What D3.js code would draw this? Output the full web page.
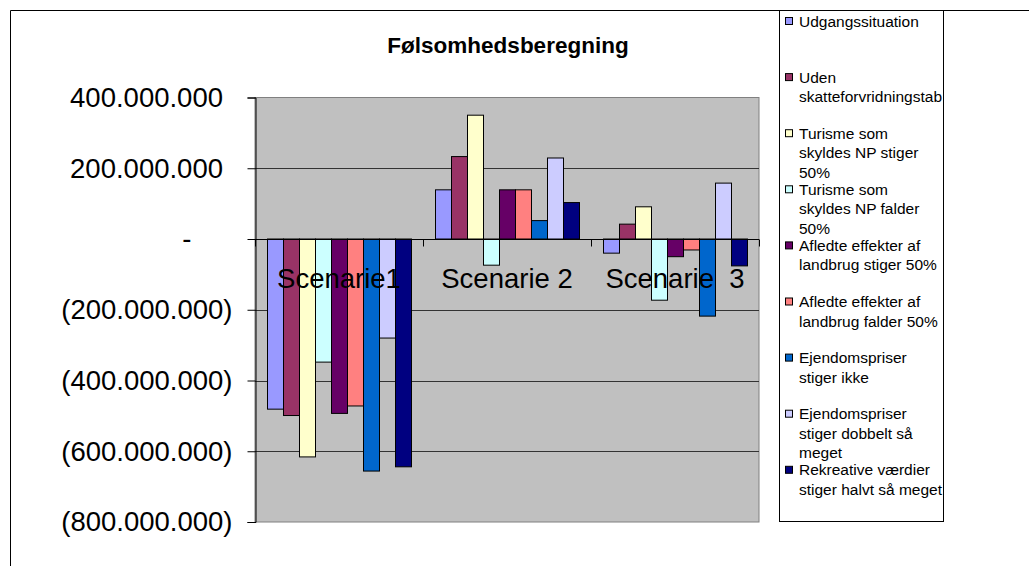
<!DOCTYPE html>
<html>
<head>
<meta charset="utf-8">
<script src="https://cdn.jsdelivr.net/npm/d3@7"></script>
<style>
  body { margin: 0; background: #fff; }
  svg { display: block; font-family: "Liberation Sans", Arial, sans-serif; }
</style>
</head>
<body>
<svg id="chart" width="1029" height="566"></svg>
<script>
// data
const categories = ['Scenarie1', 'Scenarie 2', 'Scenarie  3'];
const seriesNames = [
  'Udgangssituation', 'Uden skatteforvridningstab', 'Turisme som skyldes NP stiger 50%',
  'Turisme som skyldes NP falder 50%', 'Afledte effekter af landbrug stiger 50%',
  'Afledte effekter af landbrug falder 50%', 'Ejendomspriser stiger ikke',
  'Ejendomspriser stiger dobbelt så meget', 'Rekreative værdier stiger halvt så meget'
];
const legendLines = [
  ['Udgangssituation'],
  ['Uden', 'skatteforvridningstab'],
  ['Turisme som', 'skyldes NP stiger', '50%'],
  ['Turisme som', 'skyldes NP falder', '50%'],
  ['Afledte effekter af', 'landbrug stiger 50%'],
  ['Afledte effekter af', 'landbrug falder 50%'],
  ['Ejendomspriser', 'stiger ikke'],
  ['Ejendomspriser', 'stiger dobbelt så', 'meget'],
  ['Rekreative værdier', 'stiger halvt så meget']
];
const udgangssituation = [-481e6, 139e6, -40e6];
const udenSkat = [-499e6, 233e6, 42e6];
const turismeStiger = [-616e6, 350e6, 91e6];
const turismeFalder = [-348e6, -74e6, -173e6];
const landbrugStiger = [-493e6, 139e6, -50e6];
const landbrugFalder = [-472e6, 139e6, -31e6];
const ejendomIkke = [-656e6, 52e6, -218e6];
const ejendomDobbelt = [-280e6, 229e6, 158e6];
const rekreative = [-644e6, 103e6, -76e6];
const yTicks = [400e6, 200e6, 0, -200e6, -400e6, -600e6, -800e6];

const colors = ['#9999FF', '#993366', '#FFFFCC', '#CCFFFF', '#660066', '#FF8080', '#0066CC', '#CCCCFF', '#000080'];
const series = [udgangssituation, udenSkat, turismeStiger, turismeFalder, landbrugStiger,
  landbrugFalder, ejendomIkke, ejendomDobbelt, rekreative];

const plot = { left: 255, right: 759, top: 97.5, bottom: 522 };
const svg = d3.select('#chart');

// outer chart frame (only top/left visible)
svg.append('path')
  .attr('d', 'M10.5,566 V10.5 H1029')
  .attr('fill', 'none')
  .attr('stroke', '#000');

const x0 = d3.scaleBand().domain(categories).range([plot.left, plot.right]);
const x1 = d3.scaleBand().domain(d3.range(seriesNames.length)).range([12, x0.bandwidth() - 12]);
const y = d3.scaleLinear().domain([-800e6, 400e6]).range([plot.bottom, plot.top]);

svg.append('rect')
  .attr('x', plot.left).attr('y', plot.top)
  .attr('width', plot.right - plot.left).attr('height', plot.bottom - plot.top)
  .attr('fill', '#C0C0C0').attr('stroke', '#808080');

// gridlines
svg.append('g')
  .selectAll('line')
  .data(yTicks.filter((t) => t !== 0 && t !== -800e6 && t !== 400e6))
  .join('line')
  .attr('x1', plot.left).attr('x2', plot.right)
  .attr('y1', (d) => Math.round(y(d)) + 0.5).attr('y2', (d) => Math.round(y(d)) + 0.5)
  .attr('stroke', '#333');

// y axis
const fmt = (v) => {
  if (v === 0) return '-';
  const s = d3.format(',')(Math.abs(v)).replace(/,/g, '.');
  return v < 0 ? `(${s})` : s;
};
const yAxis = svg.append('g')
  .attr('transform', `translate(${plot.left + 0.5},0)`)
  .call(d3.axisLeft(y).tickValues(yTicks).tickSize(8).tickPadding(15).tickFormat(fmt));
yAxis.select('.domain').attr('stroke', '#000');
yAxis.selectAll('.tick line').attr('stroke', '#000');
yAxis.selectAll('.tick text')
  .attr('font-size', 27.5)
  .attr('font-family', '"Liberation Sans", Arial, sans-serif')
  .attr('fill', '#000')
  .attr('dx', (d) => (d > 0 ? -9.5 : d === 0 ? -41 : 0));

// bars
const groups = svg.append('g')
  .selectAll('g')
  .data(categories)
  .join('g')
  .attr('transform', (d) => `translate(${x0(d)},0)`);

groups.selectAll('rect')
  .data((cat, ci) => series.map((vals, si) => ({ si, value: vals[ci] })))
  .join('rect')
  .attr('x', (d) => x1(d.si) + 0.5)
  .attr('y', (d) => y(Math.max(0, d.value)))
  .attr('width', x1.bandwidth())
  .attr('height', (d) => Math.abs(y(d.value) - y(0)))
  .attr('fill', (d) => colors[d.si])
  .attr('stroke', '#000')
  .attr('stroke-width', 1);

// category axis at zero
const zeroY = Math.round(y(0)) + 0.5;
svg.append('line')
  .attr('x1', plot.left).attr('x2', plot.right)
  .attr('y1', zeroY).attr('y2', zeroY)
  .attr('stroke', '#000');
svg.append('g')
  .selectAll('line')
  .data(categories.map((c) => x0(c)).concat([plot.right]))
  .join('line')
  .attr('x1', (d) => Math.round(d) + 0.5).attr('x2', (d) => Math.round(d) + 0.5)
  .attr('y1', zeroY).attr('y2', zeroY + 7)
  .attr('stroke', '#000');

svg.append('g')
  .selectAll('text')
  .data(categories)
  .join('text')
  .attr('x', (d) => x0(d) + x0.bandwidth() / 2)
  .attr('y', 288)
  .attr('text-anchor', 'middle')
  .attr('font-size', 27.5)
  .style('white-space', 'pre')
  .text((d) => d);

// title
svg.append('text')
  .attr('x', 508)
  .attr('y', 53)
  .attr('text-anchor', 'middle')
  .attr('font-size', 22.5)
  .attr('font-weight', 'bold')
  .text('Følsomhedsberegning');

// legend
svg.append('rect')
  .attr('x', 779.5).attr('y', 10.5)
  .attr('width', 164).attr('height', 511)
  .attr('fill', '#fff').attr('stroke', '#000');

const legend = svg.append('g')
  .selectAll('g')
  .data(seriesNames)
  .join('g')
  .attr('transform', (d, i) => `translate(0,${21 + i * 56.1})`);

legend.append('rect')
  .attr('x', 785.5).attr('y', -3.5)
  .attr('width', 7).attr('height', 7)
  .attr('fill', (d, i) => colors[i])
  .attr('stroke', '#000');

legend.append('text')
  .attr('x', 799)
  .attr('font-size', 15.5)
  .each(function (d, i) {
    d3.select(this).selectAll('tspan')
      .data(legendLines[i])
      .join('tspan')
      .attr('x', 799)
      .attr('y', (line, li) => 5.5 + li * 19.5)
      .text((line) => line);
  });
</script>
</body>
</html>
